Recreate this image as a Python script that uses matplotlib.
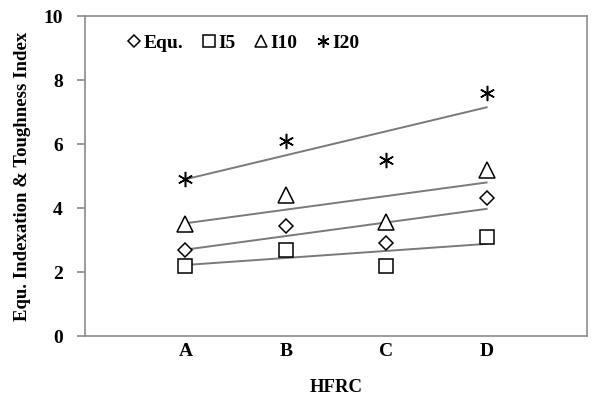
import numpy as np
import matplotlib.pyplot as plt

# HFRC mixes and index values
categories = ['A', 'B', 'C', 'D']
equ = [2.7, 3.45, 2.9, 4.3]
i5 = [2.2, 2.7, 2.2, 3.1]
i10 = [3.5, 4.4, 3.55, 5.2]
i20 = [4.9, 6.1, 5.5, 7.6]

plt.rcParams['font.family'] = ['Liberation Serif', 'DejaVu Serif']

fig = plt.figure(figsize=(6, 4.04), dpi=100)
ax = fig.add_axes([0.1417, 0.1683, 0.8366, 0.7917])

x = np.arange(1, len(categories) + 1)
series = [
    ('Equ.', equ, 'D', 7.5),
    ('I5', i5, 's', 10.5),
    ('I10', i10, '^', 11),
    ('I20', i20, (6, 2, 0), 11),
]

# linear trend lines first, then hollow markers on top
for name, vals, mk, ms in series:
    k, b = np.polyfit(x, vals, 1)
    ax.plot(x, k * x + b, color='#7a7a7a', lw=1.4, zorder=2)

for name, vals, mk, ms in series:
    ax.plot(x, vals, linestyle='none', marker=mk, ms=ms, mfc='white',
            mec='black', mew=1.1, label=name, zorder=3)

ax.set_xlim(0, 5)
ax.set_ylim(0, 10)
ax.set_xticks(x)
ax.set_xticklabels(categories)
ax.set_yticks(range(0, 11, 2))

for s in ax.spines.values():
    s.set_color('#8c8c8c')
    s.set_linewidth(1.2)

ax.tick_params(axis='x', length=0, pad=5, labelsize=14)
ax.tick_params(axis='y', length=6, color='#8c8c8c', width=1.2, pad=10, labelsize=14)
for lbl in ax.get_xticklabels() + ax.get_yticklabels():
    lbl.set_fontweight('bold')

ax.set_xlabel('HFRC', fontsize=13.5, fontweight='bold', labelpad=14)
ax.set_ylabel('Equ. Indexation & Toughness Index', fontsize=13.5, fontweight='bold', labelpad=9)

leg = ax.legend(loc='center left', bbox_to_anchor=(0.082, 0.916), ncol=4, frameon=False,
                borderpad=0, borderaxespad=0,
                handletextpad=0.1, columnspacing=0.9, handlelength=0.8,
                prop={'weight': 'bold', 'size': 14}, markerscale=0.8)

fig.savefig('out.png', dpi=100)
